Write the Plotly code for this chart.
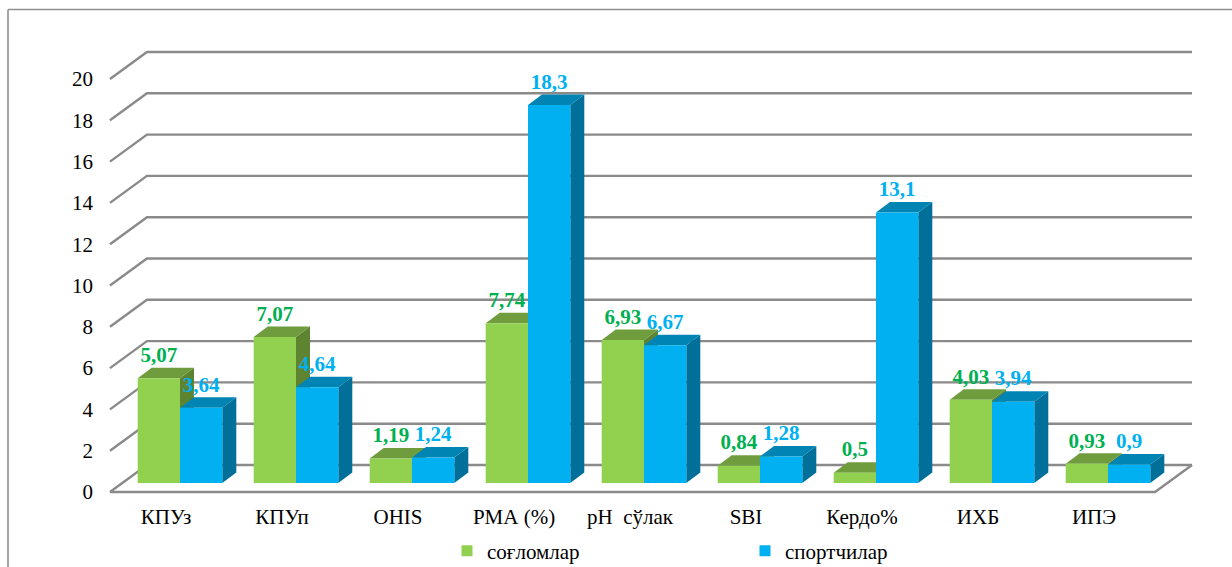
import plotly.graph_objects as go

categories = ["КПУз", "КПУп", "OHIS", "РМА (%)", "pH\u00a0\u00a0сўлак", "SBI", "Кердо%", "ИХБ", "ИПЭ"]
healthy = [5.07, 7.07, 1.19, 7.74, 6.93, 0.84, 0.5, 4.03, 0.93]
athletes = [3.64, 4.64, 1.24, 18.3, 6.67, 1.28, 13.1, 3.94, 0.9]
y_ticks = [0, 2, 4, 6, 8, 10, 12, 14, 16, 18, 20]

FONT = "Liberation Serif"
GRID = "#8a8a8a"
GREEN = {"front": "#92D050", "top": "#6F9C3D", "side": "#5E8431", "text": "#00B050"}
BLUE = {"front": "#00B0F0", "top": "#0084B4", "side": "#006F9A", "text": "#00B0F0"}

# pixel scale of the picture: one category = 116px, one y unit = 20.65px
PX_X = 116
PX_Y = 20.65
LEFT, RIGHT, TOP, BOTTOM = 94, 1232, 0, 502

# 3d projection offsets, in axis units
FLOOR_DX, FLOOR_DY = 37 / PX_X, 27 / PX_Y
BAR_DX, BAR_DY = 14 / PX_X, 10.5 / PX_Y
BAR_W = 42.3 / PX_X
GROUP_SHIFT = 14 / PX_X
BASE = 9 / PX_Y
LABEL_UP = 21.5 / PX_Y
FLOOR_L, FLOOR_R = -0.483, 8.526


def poly(xs, ys, color):
    return go.Scatter(x=xs, y=ys, mode="lines", fill="toself", fillcolor=color,
                      line=dict(width=0), showlegend=False, hoverinfo="skip")


def grid_line(xs, ys):
    return go.Scatter(x=xs, y=ys, mode="lines", line=dict(color=GRID, width=2.4),
                      showlegend=False, hoverinfo="skip")


def bar_faces(x0, value, colors):
    x1 = x0 + BAR_W
    y0 = BASE
    y1 = BASE + value
    return [
        poly([x1, x1 + BAR_DX, x1 + BAR_DX, x1, x1], [y0, y0 + BAR_DY, y1 + BAR_DY, y1, y0], colors["side"]),
        poly([x0, x1, x1 + BAR_DX, x0 + BAR_DX, x0], [y1, y1, y1 + BAR_DY, y1 + BAR_DY, y1], colors["top"]),
        poly([x0, x1, x1, x0, x0], [y0, y0, y1, y1, y0], colors["front"]),
    ]


fig = go.Figure()

# grid on the back wall, with the short slanted piece on the left
for t in y_ticks:
    fig.add_trace(grid_line([FLOOR_L, FLOOR_L + FLOOR_DX, FLOOR_R + FLOOR_DX],
                            [t, t + FLOOR_DY, t + FLOOR_DY]))

# front and right edge of the floor
fig.add_trace(grid_line([FLOOR_L, FLOOR_R, FLOOR_R + FLOOR_DX], [0, 0, FLOOR_DY]))

for i in range(len(categories)):
    left = i + GROUP_SHIFT - BAR_W
    for face in bar_faces(left, healthy[i], GREEN):
        fig.add_trace(face)
    for face in bar_faces(left + BAR_W, athletes[i], BLUE):
        fig.add_trace(face)

# data labels
for values, shift, colors in [(healthy, -BAR_W / 2, GREEN), (athletes, BAR_W / 2, BLUE)]:
    fig.add_trace(go.Scatter(
        x=[i + GROUP_SHIFT + shift for i in range(len(values))],
        y=[v + BASE + LABEL_UP for v in values],
        mode="text",
        text=[str(v).replace(".", ",") for v in values],
        textposition="middle center",
        textfont=dict(family=FONT, size=21, color=colors["text"], weight="bold"),
        showlegend=False,
        hoverinfo="skip",
        cliponaxis=False,
    ))

# legend entries
fig.add_trace(go.Scatter(x=[None], y=[None], mode="markers", name="соғломлар",
                         marker=dict(symbol="square", size=11, color=GREEN["front"])))
fig.add_trace(go.Scatter(x=[None], y=[None], mode="markers", name="спортчилар",
                         marker=dict(symbol="square", size=11, color=BLUE["front"])))


def paper_x(px):
    return (px - LEFT) / (RIGHT - LEFT)


def paper_y(px):
    return (BOTTOM - px) / (BOTTOM - TOP)


fig.update_layout(
    width=1232,
    height=567,
    # the legend sits below the plot area and must not shrink it
    margin=dict(l=LEFT, r=1232 - RIGHT, t=TOP, b=567 - BOTTOM, pad=0, autoexpand=False),
    paper_bgcolor="white",
    plot_bgcolor="rgba(0,0,0,0)",
    font=dict(family=FONT, color="#000000", size=21),
    xaxis=dict(
        range=[(LEFT - 166) / PX_X, (RIGHT - 166) / PX_X],
        tickmode="array",
        tickvals=list(range(len(categories))),
        ticktext=categories,
        showgrid=False,
        zeroline=False,
        showline=False,
        ticks="",
        tickfont=dict(family=FONT, size=21, color="#000000"),
    ),
    yaxis=dict(
        range=[(492 - BOTTOM) / PX_Y, (492 - TOP) / PX_Y],
        tickmode="array",
        tickvals=y_ticks,
        showgrid=False,
        zeroline=False,
        showline=False,
        ticks="",
        tickfont=dict(family=FONT, size=21, color="#000000"),
    ),
    legend=dict(
        orientation="h",
        x=paper_x(447),
        y=paper_y(551),
        xanchor="left",
        yanchor="middle",
        entrywidth=253,
        entrywidthmode="pixels",
        font=dict(family=FONT, size=21, color="#000000"),
        bgcolor="rgba(0,0,0,0)",
        itemclick=False,
        itemdoubleclick=False,
    ),
    shapes=[
        dict(type="line", xref="paper", yref="paper", x0=paper_x(8), x1=paper_x(8),
             y0=paper_y(9.5), y1=paper_y(567), line=dict(color="#8f8f8f", width=1.6)),
        dict(type="line", xref="paper", yref="paper", x0=paper_x(8), x1=paper_x(1232),
             y0=paper_y(9.5), y1=paper_y(9.5), line=dict(color="#8f8f8f", width=1.6)),
    ],
)

# the page's default body margin would push the whole figure 8px down and right
fig.write_html("out.html", config={"displayModeBar": False},
               post_script="document.body.style.margin = '0';")
